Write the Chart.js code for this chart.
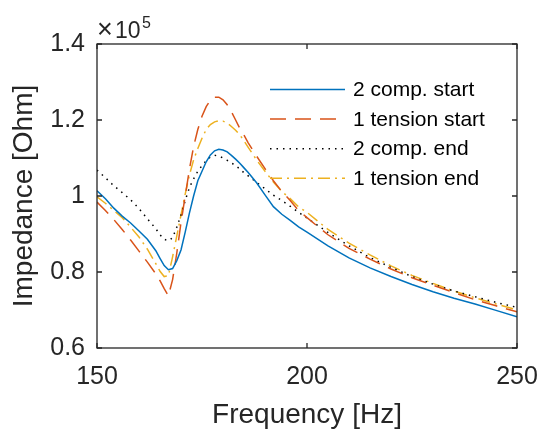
<!DOCTYPE html>
<html><head><meta charset="utf-8">
<script src="https://cdn.jsdelivr.net/npm/chart.js@4"></script>
<style>html,body{margin:0;padding:0;background:#fff;}canvas{display:block;}</style>
</head><body>
<canvas id="c" width="538" height="430"></canvas>
<script>
// Frequency grid [Hz]
const freqHz = [150,152,154,156,158,160,162,164,165,166,167,168,169,170,171,172,173,174,175,176,177,178,179,180,181,182,183,184,185,186,188,190,192,194,196,198,200,205,210,215,220,225,230,235,240,245,250];
// Impedance values in units of 1e5 Ohm
const comp2Start = [1.014,0.993,0.968,0.947,0.929,0.908,0.886,0.856,0.836,0.817,0.806,0.809,0.830,0.858,0.905,0.955,1.000,1.040,1.065,1.090,1.108,1.119,1.123,1.121,1.116,1.107,1.097,1.086,1.074,1.062,1.035,1.003,0.972,0.952,0.936,0.919,0.905,0.869,0.837,0.811,0.788,0.767,0.748,0.731,0.716,0.699,0.682];
const tension1Start = [0.984,0.962,0.938,0.912,0.884,0.855,0.826,0.795,0.777,0.756,0.737,0.780,0.850,0.930,1.000,1.070,1.130,1.175,1.210,1.235,1.252,1.260,1.260,1.253,1.240,1.222,1.200,1.178,1.160,1.140,1.105,1.072,1.040,1.012,0.988,0.962,0.943,0.898,0.862,0.834,0.808,0.785,0.765,0.746,0.727,0.711,0.695];
const comp2End = [1.068,1.048,1.027,1.009,0.990,0.967,0.940,0.914,0.898,0.886,0.882,0.890,0.918,0.950,0.988,1.022,1.045,1.065,1.080,1.093,1.103,1.107,1.105,1.100,1.094,1.087,1.080,1.071,1.061,1.053,1.036,1.019,1.002,0.988,0.973,0.957,0.942,0.904,0.869,0.838,0.812,0.788,0.768,0.750,0.735,0.720,0.707];
const tension1End = [0.998,0.981,0.962,0.943,0.918,0.892,0.860,0.822,0.802,0.788,0.790,0.840,0.895,0.950,1.005,1.055,1.095,1.125,1.152,1.175,1.188,1.195,1.198,1.197,1.192,1.183,1.173,1.161,1.145,1.128,1.095,1.065,1.037,1.012,0.993,0.971,0.957,0.912,0.876,0.845,0.816,0.791,0.770,0.750,0.732,0.716,0.700];
const seriesNames = ['2 comp. start','1 tension start','2 comp. end','1 tension end'];
const xTickValues = [150,200,250];
const xTickLabels = ['150','200','250'];
const yTickValues = [0.6,0.8,1,1.2,1.4];
const yTickLabels = ['0.6','0.8','1','1.2','1.4'];

const FONT = '"Liberation Sans", Arial, Helvetica, sans-serif';
const AX = '#262626';
const pts = ys => freqHz.map((f, i) => ({x: f, y: ys[i]}));

const ds = (label, ys, color, dash) => ({
  label, data: pts(ys), borderColor: color, backgroundColor: color,
  borderWidth: 1.5, borderDash: dash, pointRadius: 0, tension: 0, fill: false
});

const decor = {
  id: 'decor',
  afterDraw(chart) {
    const ctx = chart.ctx, a = chart.chartArea;
    const sx = chart.scales.x, sy = chart.scales.y;
    ctx.save();
    // box
    ctx.strokeStyle = AX; ctx.lineWidth = 1.3;
    ctx.strokeRect(a.left, a.top, a.right - a.left, a.bottom - a.top);
    // inward ticks on all sides
    const tl = 5;
    ctx.beginPath();
    xTickValues.forEach(v => {
      const px = sx.getPixelForValue(v);
      ctx.moveTo(px, a.bottom); ctx.lineTo(px, a.bottom - tl);
      ctx.moveTo(px, a.top); ctx.lineTo(px, a.top + tl);
    });
    yTickValues.forEach(v => {
      const py = sy.getPixelForValue(v);
      ctx.moveTo(a.left, py); ctx.lineTo(a.left + tl, py);
      ctx.moveTo(a.right, py); ctx.lineTo(a.right - tl, py);
    });
    ctx.stroke();
    // exponent label
    ctx.fillStyle = AX;
    ctx.textBaseline = 'alphabetic'; ctx.textAlign = 'left';
    ctx.font = '27px ' + FONT;
    ctx.fillText('\u00d7', a.left, a.top - 6);
    ctx.font = '23px ' + FONT;
    ctx.fillText('10', a.left + 18, a.top - 6);
    ctx.font = '16px ' + FONT;
    ctx.fillText('5', a.left + 45, a.top - 16);
    // legend
    const lx0 = 270, lx1 = 345, tx = 353, y0 = 89.5, dy = 29.6;
    chart.data.datasets.forEach((d, i) => {
      const y = y0 + i * dy;
      ctx.strokeStyle = d.borderColor; ctx.lineWidth = d.borderWidth;
      ctx.setLineDash(d.borderDash || []);
      ctx.beginPath(); ctx.moveTo(lx0, y); ctx.lineTo(lx1, y); ctx.stroke();
      ctx.setLineDash([]);
      ctx.fillStyle = '#000'; ctx.font = '21px ' + FONT; ctx.textBaseline = 'middle';
      ctx.fillText(d.label, tx, y + 1);
    });
    ctx.restore();
  }
};

new Chart(document.getElementById('c'), {
  type: 'line',
  data: {
    datasets: [
      ds(seriesNames[0], comp2Start, '#0072BD', []),
      ds(seriesNames[1], tension1Start, '#D95319', [16, 9]),
      ds(seriesNames[2], comp2End, '#000000', [1.5, 5]),
      ds(seriesNames[3], tension1End, '#EDB120', [12, 5, 2, 5])
    ]
  },
  options: {
    responsive: false, animation: false, devicePixelRatio: 1,
    layout: {padding: {left: 0, right: 21, top: 44, bottom: 0}},
    plugins: {legend: {display: false}, tooltip: {enabled: false}},
    scales: {
      x: {
        type: 'linear', min: 150, max: 250,
        grid: {display: false, drawTicks: false}, border: {display: false},
        afterBuildTicks: s => { s.ticks = xTickValues.map(v => ({value: v})); },
        ticks: {autoSkip: false, maxRotation: 0, padding: 14, color: AX,
          font: {family: FONT, size: 25},
          callback: v => xTickLabels[xTickValues.indexOf(v)]},
        title: {display: true, text: 'Frequency [Hz]', color: AX,
          font: {family: FONT, size: 28, lineHeight: 1}, padding: {top: 0, bottom: 0.5}},
        afterFit: s => { s.height = 82; s.paddingLeft = 0; s.paddingRight = 0; }
      },
      y: {
        type: 'linear', min: 0.6, max: 1.4,
        grid: {display: false, drawTicks: false}, border: {display: false},
        afterBuildTicks: s => { s.ticks = yTickValues.map(v => ({value: v})); },
        ticks: {autoSkip: false, padding: 12, color: AX,
          font: {family: FONT, size: 25},
          callback: v => yTickLabels[yTickValues.findIndex(t => Math.abs(t - v) < 1e-9)]},
        title: {display: true, text: 'Impedance [Ohm]', color: AX,
          font: {family: FONT, size: 28, lineHeight: 1}, padding: {top: 10, bottom: 0}},
        afterFit: s => { s.width = 97; s.paddingTop = 0; s.paddingBottom = 0; }
      }
    }
  },
  plugins: [decor]
});
</script>
</body></html>
